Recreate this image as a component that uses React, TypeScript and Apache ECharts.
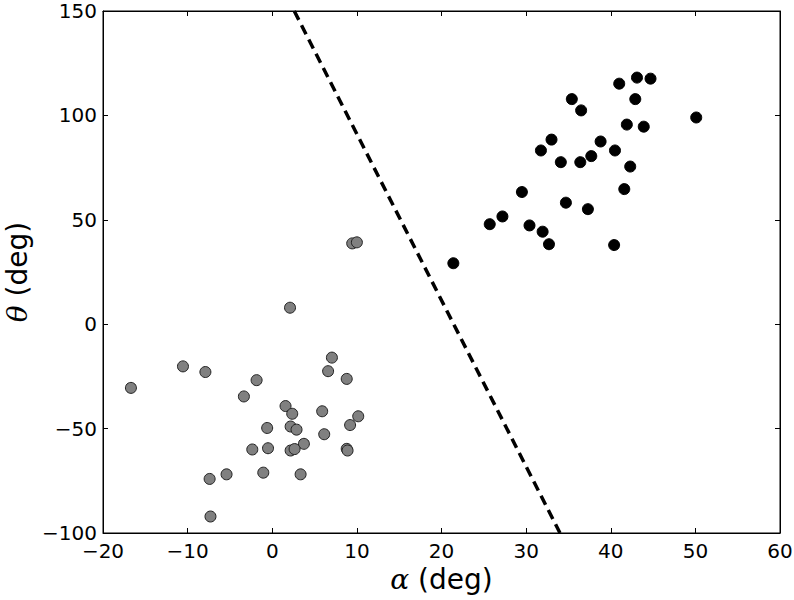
import React, { useEffect, useRef } from "react";
import * as echarts from "echarts";

// Grey group (alpha, theta) in degrees
const greyAlpha = [-16.7, -10.55, -7.9, 2.1, 7.05, 6.6, 8.8, -1.85, -3.35, 1.57, 2.36, 5.9, 10.16, 9.2, -0.6, 2.17, 2.87, 6.14, 3.74, -2.36, -0.5, 2.17, 2.64, 8.8, 8.9, -1.06, 3.35, -5.4, -7.4, -7.3, 9.45, 10.0];
const greyTheta = [-30.5, -20.2, -22.9, 7.9, -16.0, -22.5, -26.2, -26.8, -34.6, -39.2, -42.9, -41.7, -44.1, -48.3, -49.7, -49.0, -50.5, -52.7, -57.3, -60.0, -59.4, -60.5, -59.8, -59.7, -60.5, -71.1, -71.9, -71.9, -74.1, -92.1, 38.7, 39.2];

// Black group
const blackAlpha = [21.4, 25.7, 27.2, 29.5, 30.4, 31.95, 32.7, 31.75, 33.0, 34.1, 34.7, 35.4, 36.5, 36.4, 37.3, 37.7, 38.8, 40.5, 40.4, 41.6, 42.3, 41.0, 41.9, 42.9, 43.1, 43.9, 44.7, 50.1];
const blackTheta = [29.2, 47.9, 51.6, 63.3, 47.3, 44.3, 38.3, 83.2, 88.4, 77.6, 58.2, 107.8, 102.4, 77.6, 55.1, 80.5, 87.5, 83.2, 37.9, 64.7, 75.5, 115.2, 95.6, 107.8, 118.1, 94.6, 117.6, 99.0];

// Separating dashed line endpoints
const boundaryAlpha = [2.6, 34.0];
const boundaryTheta = [150, -100];

const xTicks = { min: -20, max: 60, interval: 10 };
const yTicks = { min: -100, max: 150, interval: 50 };

const zip = (a: number[], b: number[]) => a.map((v, i) => [v, b[i]]);
const fmt = (v: number) => String(v).replace("-", "\u2212");

export default function App() {
  const ref = useRef<HTMLDivElement>(null);
  useEffect(() => {
    if (!ref.current) return;
    const chart = echarts.init(ref.current, undefined, { renderer: "svg" });
    const font = "DejaVu Sans";
    const tickLabel = { fontFamily: font, fontSize: 20, lineHeight: 20, color: "#000" };
    const nameRich = {
      i: { fontFamily: "DejaVu Serif", fontStyle: "italic", fontSize: 28, lineHeight: 28, color: "#000" },
      n: { fontFamily: font, fontSize: 28, lineHeight: 28, color: "#000" },
    };
    const common = {
      splitLine: { show: false },
      axisLine: { show: true, onZero: false, lineStyle: { color: "#000", width: 1 } },
      axisTick: { show: true, inside: true, length: 5, lineStyle: { color: "#000", width: 1 } },
    };
    chart.setOption({
      animation: false,
      backgroundColor: "#fff",
      grid: {
        left: 103, right: 14, top: 11, bottom: 67,
        containLabel: false, outerBoundsMode: "none",
        show: true, borderColor: "#000", borderWidth: 1, backgroundColor: "transparent",
      },
      xAxis: [
        {
          type: "value", ...xTicks, position: "bottom", ...common,
          axisLabel: { ...tickLabel, margin: 8, formatter: fmt },
          name: "{i|α}{n| (deg)}", nameLocation: "middle", nameGap: 28,
          nameTextStyle: { rich: nameRich },
        },
        {
          type: "value", ...xTicks, position: "top", ...common,
          axisLabel: { show: false },
        },
      ],
      yAxis: [
        {
          type: "value", ...yTicks, position: "left", ...common,
          axisLabel: { ...tickLabel, margin: 6, formatter: fmt },
          name: "{i|θ}{n| (deg)}", nameLocation: "middle", nameGap: 62,
          nameTextStyle: { rich: nameRich },
        },
        {
          type: "value", ...yTicks, position: "right", ...common,
          axisLabel: { show: false },
        },
      ],
      series: [
        {
          type: "line",
          data: zip(boundaryAlpha, boundaryTheta),
          symbol: "none",
          lineStyle: { color: "#000", width: 3.5, type: [10, 6] },
          z: 1,
        },
        {
          type: "scatter",
          data: zip(greyAlpha, greyTheta),
          symbol: "circle",
          symbolSize: 11,
          itemStyle: { color: "#808080", borderColor: "#222", borderWidth: 1, opacity: 1 },
          z: 3,
        },
        {
          type: "scatter",
          data: zip(blackAlpha, blackTheta),
          symbol: "circle",
          symbolSize: 11,
          itemStyle: { color: "#000", borderColor: "#000", borderWidth: 1, opacity: 1 },
          z: 3,
        },
      ],
    });
    return () => chart.dispose();
  }, []);
  return <div ref={ref} style={{ width: 794, height: 600, position: "absolute", left: 0, top: 0 }} />;
}
